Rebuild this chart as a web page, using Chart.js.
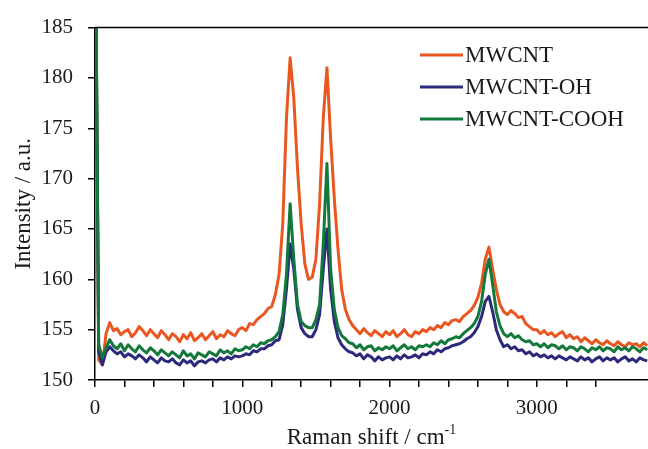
<!DOCTYPE html>
<html>
<head>
<meta charset="utf-8">
<script src="https://cdn.jsdelivr.net/npm/chart.js@4/dist/chart.umd.min.js"></script>
<style>
  html, body { margin: 0; padding: 0; background: #fff; }
  #chart { display: block; }
</style>
</head>
<body>
<canvas id="chart" width="648" height="449"></canvas>
<script>
// Raman shift grid (cm-1)
const shift = [
  0, 25, 50, 75, 100, 125, 150, 175, 200, 225,
  250, 275, 300, 325, 350, 375, 400, 425, 450, 475,
  500, 525, 550, 575, 600, 625, 650, 675, 700, 725,
  750, 775, 800, 825, 850, 875, 900, 925, 950, 975,
  1000, 1025, 1050, 1075, 1100, 1125, 1150, 1175, 1200, 1225,
  1250, 1275, 1300, 1325, 1350, 1375, 1400, 1425, 1450, 1475,
  1500, 1525, 1550, 1575, 1600, 1625, 1650, 1675, 1700, 1725,
  1750, 1775, 1800, 1825, 1850, 1875, 1900, 1925, 1950, 1975,
  2000, 2025, 2050, 2075, 2100, 2125, 2150, 2175, 2200, 2225,
  2250, 2275, 2300, 2325, 2350, 2375, 2400, 2425, 2450, 2475,
  2500, 2525, 2550, 2575, 2600, 2625, 2650, 2675, 2700, 2725,
  2750, 2775, 2800, 2825, 2850, 2875, 2900, 2925, 2950, 2975,
  3000, 3025, 3050, 3075, 3100, 3125, 3150, 3175, 3200, 3225,
  3250, 3275, 3300, 3325, 3350, 3375, 3400, 3425, 3450, 3475,
  3500, 3525, 3550, 3575, 3600, 3625, 3650, 3675, 3700, 3725,
  3750
]

const mwcnt = [
  200, 152.0, 151.5, 154.6, 155.7, 154.9, 155.1, 154.5, 154.8, 155.0,
  154.3, 154.7, 155.3, 154.9, 154.4, 155.0, 154.6, 154.2, 154.9, 154.5,
  154.0, 154.6, 154.3, 153.8, 154.5, 154.1, 154.7, 153.9, 154.2, 154.6,
  154.0, 154.4, 154.8, 154.1, 154.5, 154.3, 154.9, 154.6, 154.4, 155.0,
  155.2, 154.9, 155.6, 155.5, 156.0, 156.3, 156.6, 157.1, 157.3, 158.5,
  160.5, 165.5, 176.0, 182.0, 178.0, 171.0, 165.5, 161.5, 160.0, 160.2,
  162.0, 167.5, 176.0, 181.0, 174.0, 168.0, 163.0, 159.0, 157.0, 156.0,
  155.4, 155.0, 154.6, 155.1, 154.7, 154.4, 154.9, 154.6, 154.3, 154.8,
  154.5, 154.9, 154.3, 154.6, 155.0, 154.5, 154.3, 154.8, 154.6, 155.0,
  154.8, 155.2, 155.0, 155.4, 155.2, 155.7, 155.5, 155.9, 156.0, 155.8,
  156.3, 156.6, 156.9, 157.4, 158.2, 159.6, 162.0, 163.2, 161.0, 159.0,
  157.5, 156.8, 156.5, 156.9, 156.6, 156.2, 156.3, 155.6, 155.3, 155.0,
  155.0, 154.6, 154.9, 154.5, 154.7, 154.3, 154.6, 154.8, 154.2, 154.5,
  154.1, 154.3, 153.8, 154.2, 153.9, 153.6, 154.0, 153.7, 153.5, 153.9,
  153.6, 153.4, 153.8, 153.5, 153.3, 153.7, 153.5, 153.6, 153.3, 153.7,
  153.4
]

const mwcntOH = [
  200, 152.8, 151.5, 152.8, 153.3, 152.9, 152.6, 152.8, 152.3, 152.6,
  152.4, 152.1, 152.5, 152.2, 151.8, 152.3, 152.0, 151.7, 152.2, 151.9,
  151.8, 152.1, 151.7, 151.5, 152.0, 151.7, 151.9, 151.4, 151.8, 151.9,
  151.7, 152.0, 152.1, 151.8, 152.2, 152.0, 152.3, 152.1, 152.4, 152.3,
  152.4, 152.6, 152.5, 152.9, 152.8, 153.1, 153.1, 153.4, 153.5, 153.9,
  154.0, 155.5, 159.0, 163.5, 161.0, 157.0, 155.2, 154.6, 154.3, 154.3,
  155.0, 156.5, 161.0, 165.0, 159.0, 155.8, 154.2, 153.5, 153.1, 152.8,
  152.7, 152.4, 152.6, 152.1, 152.5, 152.3, 151.9, 152.3, 152.0, 152.2,
  152.3, 152.0, 152.4, 152.1, 152.5, 152.2, 152.3, 152.5, 152.2, 152.6,
  152.5, 152.8, 152.6, 153.0, 152.8, 153.1, 153.2, 153.4, 153.5, 153.6,
  153.8, 154.1, 154.3, 154.7, 155.3, 156.3, 157.8, 158.3, 156.8, 155.0,
  154.0, 153.3, 153.5, 153.1, 153.3, 152.9, 153.0, 152.6, 152.8, 152.4,
  152.6, 152.3, 152.5, 152.2, 152.4, 152.1, 152.4, 152.2, 152.0, 152.3,
  152.1, 151.9, 152.3, 152.0, 152.2, 151.8, 152.1, 152.3, 151.9, 152.2,
  152.0, 152.2, 151.8, 152.1, 152.3, 151.9, 152.1, 151.8, 152.2, 152.0,
  151.9
]

const mwcntCOOH = [
  200, 153.5, 152.2, 153.2, 154.0, 153.4, 153.1, 153.6, 152.9, 153.5,
  153.1, 152.8, 153.4, 153.0, 152.7, 153.2, 152.9, 152.5, 153.0, 152.7,
  152.4, 152.8, 152.5, 152.2, 152.9, 152.4, 152.6, 152.1, 152.7, 152.5,
  152.3, 152.8, 152.6, 152.4, 153.0, 152.7, 152.9, 152.6, 153.1, 152.9,
  153.0, 153.3, 153.1, 153.5, 153.3, 153.7, 153.6, 153.9, 154.0, 154.3,
  154.8, 156.5, 160.5, 167.5, 162.0, 157.5, 155.8, 155.4, 155.2, 155.2,
  156.0, 157.5, 163.5, 171.5, 161.0, 157.0, 155.2, 154.4, 154.1, 153.7,
  153.6, 153.2, 153.5, 153.0, 153.3, 153.4, 152.9, 153.2, 153.0, 153.3,
  153.1, 153.4, 152.9, 153.2, 153.5, 153.1, 153.3, 153.0, 153.4, 153.3,
  153.5, 153.3, 153.7, 153.5, 153.9, 153.6, 154.0, 154.1, 154.3, 154.2,
  154.6, 154.9, 155.2, 155.6, 156.3, 157.8, 160.5, 162.0, 159.5, 156.8,
  155.4, 154.6, 154.3, 154.6, 154.2, 154.4, 154.0, 153.8, 153.9, 153.5,
  153.6, 153.3, 153.6, 153.2, 153.5, 153.4, 153.1, 153.4, 153.0, 153.3,
  153.2, 152.9, 153.3, 153.1, 152.8, 153.2, 153.0, 153.3, 152.9, 153.2,
  153.1, 152.8, 153.3, 153.0, 153.2, 152.9, 153.3, 153.1, 152.8, 153.2,
  153.0
]

const seriesNames = ['MWCNT', 'MWCNT-OH', 'MWCNT-COOH']
const seriesColors = ['#E9561F', '#2C2A7C', '#13793B']
const yTicks = [150, 155, 160, 165, 170, 175, 180, 185]
const xLabels = [0, 1000, 2000, 3000]

const serif = "'Liberation Serif', 'Times New Roman', serif"

const toPoints = (ys) => ys.map((y, i) => ({ x: shift[i], y: y }))

// top frame line, legend and the x title (needs a superscript)
const extras = {
  id: 'extras',
  afterDraw(chart) {
    const ctx = chart.ctx
    const area = chart.chartArea
    ctx.save()
    ctx.strokeStyle = '#000'
    ctx.lineWidth = 1.5
    ctx.beginPath()
    ctx.moveTo(area.left, area.top)
    ctx.lineTo(area.right, area.top)
    ctx.stroke()

    ctx.font = `23px ${serif}`
    ctx.textBaseline = 'middle'
    ctx.textAlign = 'left'
    ctx.fillStyle = '#1a1a1a'
    seriesNames.forEach((name, i) => {
      const y = 55 + i * 32
      ctx.strokeStyle = seriesColors[i]
      ctx.lineWidth = 3
      ctx.beginPath()
      ctx.moveTo(420, y)
      ctx.lineTo(463, y)
      ctx.stroke()
      ctx.fillText(name, 465, y + 1)
    })

    const main = 'Raman shift / cm'
    const sup = '-1'
    ctx.font = `23px ${serif}`
    const w1 = ctx.measureText(main).width
    ctx.font = `14px ${serif}`
    const w2 = ctx.measureText(sup).width
    const x0 = (area.left + area.right) / 2 - (w1 + w2) / 2
    ctx.font = `23px ${serif}`
    ctx.textBaseline = 'alphabetic'
    ctx.fillText(main, x0, 444)
    ctx.font = `14px ${serif}`
    ctx.fillText(sup, x0 + w1, 434)
    ctx.restore()
  }
}

new Chart(document.getElementById('chart'), {
  type: 'line',
  data: {
    datasets: [
      { label: seriesNames[0], data: toPoints(mwcnt), borderColor: seriesColors[0], order: 2 },
      { label: seriesNames[1], data: toPoints(mwcntOH), borderColor: seriesColors[1], order: 1 },
      { label: seriesNames[2], data: toPoints(mwcntCOOH), borderColor: seriesColors[2], order: 0 }
    ]
  },
  options: {
    responsive: false,
    animation: false,
    layout: { padding: { top: 21, right: 0, left: 0, bottom: 0 } },
    elements: {
      line: { borderWidth: 3, tension: 0, borderJoinStyle: 'round' },
      point: { radius: 0 }
    },
    plugins: {
      legend: { display: false },
      tooltip: { enabled: false }
    },
    scales: {
      x: {
        type: 'linear',
        min: 0,
        max: 3755,
        afterFit: (s) => { s.height = 69 },
        afterBuildTicks: (s) => { s.ticks = s.ticks.filter(t => t.value % 200 === 0) },
        border: { color: '#000', width: 1.5 },
        grid: { drawOnChartArea: false, color: '#000', lineWidth: 1.5, tickLength: 7 },
        ticks: {
          stepSize: 200,
          autoSkip: false,
          maxRotation: 0,
          padding: 9,
          color: '#1a1a1a',
          font: { family: serif, size: 21 },
          callback: (v) => xLabels.includes(v) ? String(v) : ''
        }
      },
      y: {
        min: 150,
        max: 185,
        afterFit: (s) => { s.width = 95 },
        afterBuildTicks: (s) => { s.ticks = yTicks.map(v => ({ value: v })) },
        border: { color: '#000', width: 1.5 },
        grid: { drawOnChartArea: false, color: '#000', lineWidth: 1.5, tickLength: 7 },
        ticks: {
          padding: 15,
          color: '#1a1a1a',
          font: { family: serif, size: 21 }
        },
        title: {
          display: true,
          text: 'Intensity / a.u.',
          color: '#1a1a1a',
          font: { family: serif, size: 23 },
          padding: { top: 10, bottom: 0 }
        }
      }
    }
  },
  plugins: [extras]
})
</script>
</body>
</html>
